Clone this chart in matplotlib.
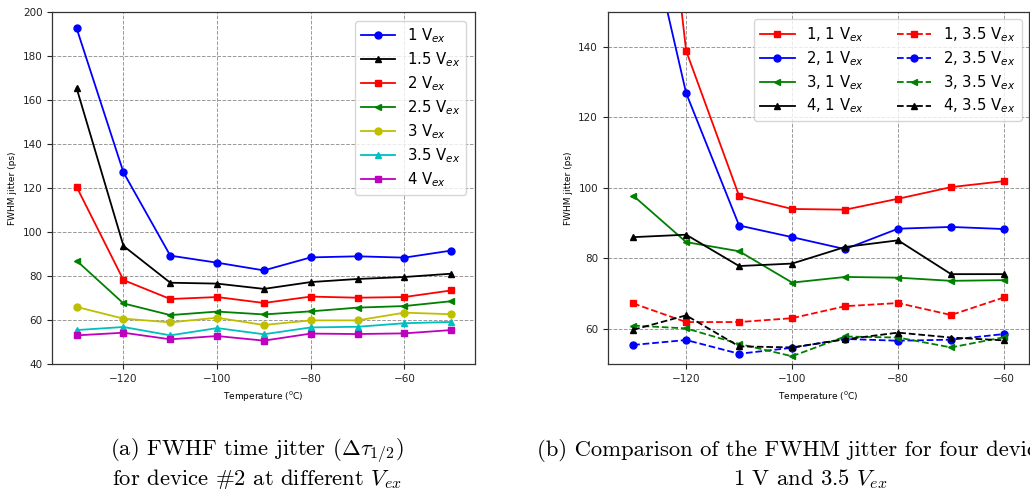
import matplotlib
matplotlib.use("Agg")
import matplotlib.pyplot as plt

# Temperatures (deg C)
temps_a = [-130, -120, -110, -100, -90, -80, -70, -60, -50]
temps_b = [-130, -120, -110, -100, -90, -80, -70, -60]

# (a) device #2, FWHM jitter (ps) for each excess bias
vex_labels = ["1", "1.5", "2", "2.5", "3", "3.5", "4"]
jit_1 = [192.4, 127.0, 89.2, 86.0, 82.5, 88.4, 88.9, 88.3, 91.5]
jit_1p5 = [165.2, 93.6, 76.9, 76.5, 74.1, 77.2, 78.6, 79.5, 81.0]
jit_2 = [120.4, 78.1, 69.5, 70.4, 67.7, 70.6, 70.1, 70.4, 73.4]
jit_2p5 = [86.9, 67.5, 62.2, 63.8, 62.5, 63.9, 65.6, 66.3, 68.5]
jit_3 = [65.9, 60.6, 58.9, 61.0, 57.7, 59.8, 59.8, 63.3, 62.6]
jit_3p5 = [55.4, 56.8, 53.0, 56.3, 53.5, 56.6, 56.9, 58.5, 59.1]
jit_4 = [53.0, 54.2, 51.2, 52.7, 50.6, 53.8, 53.6, 53.9, 55.4]

# (b) four devices at 1 V and 3.5 V excess bias
dev1_1v = [271.0, 138.9, 97.7, 94.0, 93.8, 96.9, 100.2, 101.9]
dev2_1v = [192.4, 126.9, 89.3, 86.0, 82.6, 88.4, 88.9, 88.3]
dev3_1v = [97.8, 84.6, 82.0, 73.1, 74.7, 74.5, 73.6, 73.8]
dev4_1v = [86.0, 86.7, 77.8, 78.5, 83.2, 85.1, 75.5, 75.5]
dev1_3p5v = [67.2, 61.9, 61.9, 63.0, 66.4, 67.3, 63.9, 68.9]
dev2_3p5v = [55.4, 56.8, 52.9, 54.6, 57.1, 56.6, 56.9, 58.5]
dev3_3p5v = [60.9, 60.1, 55.7, 52.2, 57.8, 57.5, 54.7, 57.6]
dev4_3p5v = [59.7, 63.8, 55.0, 54.7, 57.0, 58.9, 57.5, 56.7]

fig = plt.figure(figsize=(10.30, 4.91), dpi=100)

lw = 1.3
ms = 5
tick_fs = 7.5
label_fs = 6.5
leg_fs = 10.7


def style_axes(ax):
    ax.grid(True, linestyle="--", color="#999999", linewidth=0.7)
    ax.set_axisbelow(True)
    ax.tick_params(labelsize=tick_fs, length=3.5, width=0.8, colors="#222222")
    for sp in ax.spines.values():
        sp.set_color("#333333")
        sp.set_linewidth(0.9)
    ax.set_xlabel(r"Temperature ($^0$C)", fontsize=label_fs)
    ax.set_ylabel("FWHM jitter (ps)", fontsize=label_fs)
    ax.set_xticks([-120, -100, -80, -60])


# ---- panel (a) ----
ax1 = fig.add_axes([0.0508, 0.2587, 0.4104, 0.7175])
series_a = [jit_1, jit_1p5, jit_2, jit_2p5, jit_3, jit_3p5, jit_4]
styles_a = [("b", "o"), ("k", "^"), ("r", "s"), ("g", "<"),
            ("y", "o"), ("c", "^"), ("m", "s")]
for vals, lab, (c, m) in zip(series_a, vex_labels, styles_a):
    ax1.plot(temps_a, vals, color=c, marker=m, lw=lw, ms=ms,
             label=lab + r" V$_{ex}$")
ax1.set_xlim(-135.2, -44.9)
ax1.set_ylim(40, 200)
ax1.set_yticks(range(40, 201, 20))
style_axes(ax1)
ax1.legend(loc="upper right", fontsize=leg_fs, handlelength=2.3,
           borderaxespad=0.6, labelspacing=0.35)

# ---- panel (b) ----
ax2 = fig.add_axes([0.590, 0.2587, 0.409, 0.7175])
series_b = [(dev1_1v, "r", "s", "-", "1, 1"),
            (dev2_1v, "b", "o", "-", "2, 1"),
            (dev3_1v, "g", "<", "-", "3, 1"),
            (dev4_1v, "k", "^", "-", "4, 1"),
            (dev1_3p5v, "r", "s", "--", "1, 3.5"),
            (dev2_3p5v, "b", "o", "--", "2, 3.5"),
            (dev3_3p5v, "g", "<", "--", "3, 3.5"),
            (dev4_3p5v, "k", "^", "--", "4, 3.5")]
for vals, c, m, ls, lab in series_b:
    ax2.plot(temps_b, vals, color=c, marker=m, ls=ls, lw=lw, ms=ms,
             label=lab + r" V$_{ex}$")
ax2.set_xlim(-134.8, -55.3)
ax2.set_ylim(50, 150)
ax2.set_yticks(range(60, 141, 20))
style_axes(ax2)
ax2.legend(loc="upper right", ncol=2, fontsize=leg_fs, handlelength=2.3,
           borderaxespad=0.5, labelspacing=0.35, columnspacing=2.2)

# ---- captions ----
cap_kw = dict(fontfamily="cmr10", math_fontfamily="cm", fontsize=16.3,
              ha="center", va="center")
fig.text(257 / 1030, 1 - 451 / 491,
         r"(a) FWHF time jitter ($\Delta\tau_{1/2}$)", **cap_kw)
fig.text(257 / 1030, 1 - 479 / 491,
         r"for device $\#$2 at different $V_{ex}$", **cap_kw)
fig.text(810 / 1030, 1 - 451 / 491,
         r"(b) Comparison of the FWHM jitter for four devices at", **cap_kw)
fig.text(810 / 1030, 1 - 479 / 491,
         r"1 V and 3.5 $V_{ex}$", **cap_kw)

fig.savefig("out.png", dpi=100)
